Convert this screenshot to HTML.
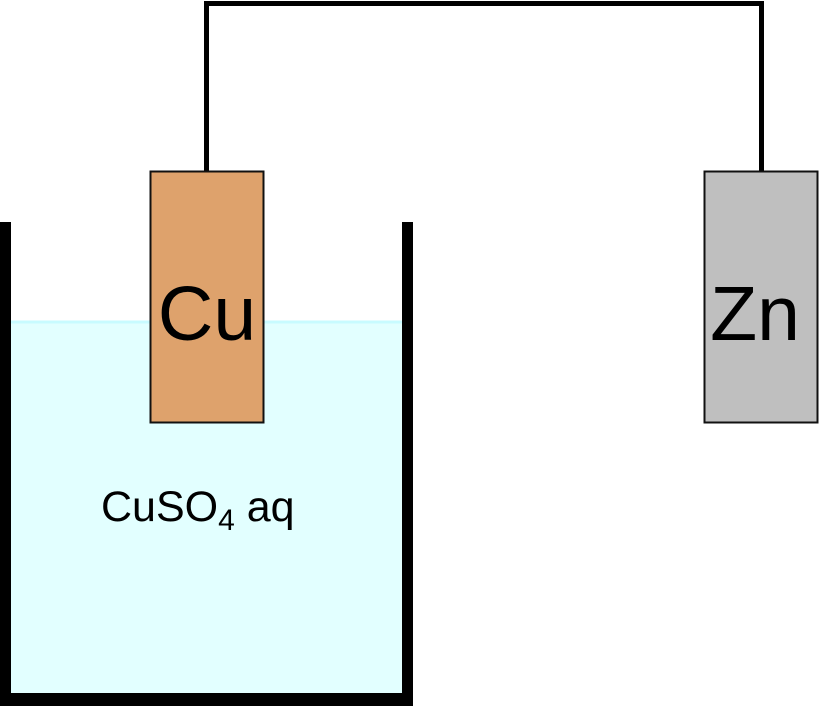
<!DOCTYPE html>
<html><head><meta charset="utf-8"><style>
html,body{margin:0;padding:0;background:#fff;}
body{width:819px;height:706px;position:relative;overflow:hidden;font-family:"Liberation Sans",Arial,sans-serif;}
</style></head><body>
<svg width="819" height="706" viewBox="0 0 819 706" style="position:absolute;left:0;top:0">
  <rect x="11" y="321" width="391" height="372" fill="#e2ffff"/>
  <line x1="11" y1="322" x2="402" y2="322" stroke="#c8fbff" stroke-width="3"/>
  <rect x="0" y="222" width="11" height="484" fill="#000"/>
  <rect x="402" y="222" width="11" height="484" fill="#000"/>
  <rect x="0" y="693" width="413" height="13" fill="#000"/>
  <polyline points="206.5,171 206.5,3.5 761.5,3.5 761.5,171" fill="none" stroke="#000" stroke-width="5"/>
  <rect x="150.5" y="171.5" width="113" height="251" fill="#dea26c" stroke="#111" stroke-width="2"/>
  <rect x="704.5" y="171.5" width="113" height="251" fill="#bfbfbf" stroke="#111" stroke-width="2"/>
  <text x="207" y="340" font-size="77" text-anchor="middle" fill="#000" font-family="Liberation Sans, Arial, sans-serif">Cu</text>
  <text x="755" y="340" font-size="77" text-anchor="middle" fill="#000" font-family="Liberation Sans, Arial, sans-serif">Zn</text>
  <text x="101" y="521" font-size="43" fill="#000" font-family="Liberation Sans, Arial, sans-serif">CuSO<tspan font-size="30" dy="9">4</tspan><tspan dy="-9"> aq</tspan></text>
</svg>
</body></html>
